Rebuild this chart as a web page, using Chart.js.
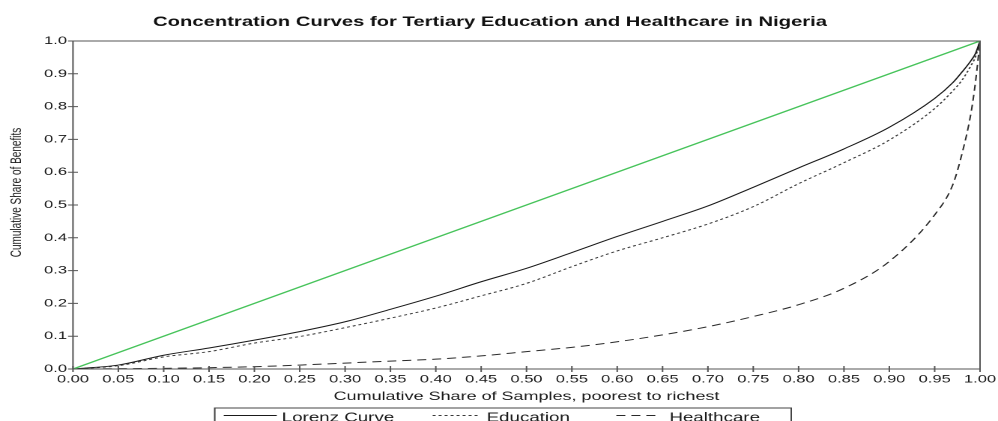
<!DOCTYPE html>
<html>
<head>
<meta charset="utf-8">
<script src="https://cdn.jsdelivr.net/npm/chart.js@4/dist/chart.umd.min.js"></script>
<style>
  html, body { margin: 0; padding: 0; background: #fff; overflow: hidden; }
  #wrap { width: 666px; height: 421px; transform: scaleX(1.4985); transform-origin: 0 0; }
</style>
</head>
<body>
<div id="wrap"><canvas id="c" width="666" height="421"></canvas></div>
<script>
// Cumulative share of the sample, ranked poorest to richest
const popShare = [0, 0.05, 0.10, 0.15, 0.20, 0.25, 0.30, 0.35, 0.40, 0.45, 0.50, 0.55, 0.60,
                  0.65, 0.70, 0.75, 0.80, 0.85, 0.90, 0.95, 0.97, 0.98, 0.99, 0.995, 1.00];
// Cumulative share of benefits
const lorenzCurve = [0, 0.012, 0.042, 0.064, 0.088, 0.114, 0.144, 0.182, 0.222, 0.266, 0.307, 0.355, 0.404,
                     0.450, 0.497, 0.554, 0.613, 0.671, 0.737, 0.825, 0.873, 0.905, 0.940, 0.962, 1.00];
const educationShare = [0, 0.010, 0.037, 0.053, 0.079, 0.099, 0.126, 0.155, 0.186, 0.223, 0.261, 0.312, 0.360,
                        0.400, 0.442, 0.495, 0.565, 0.629, 0.698, 0.794, 0.848, 0.880, 0.925, 0.952, 1.00];
const healthcareShare = [0, 0.001, 0.002, 0.004, 0.007, 0.012, 0.018, 0.024, 0.030, 0.040, 0.053, 0.066, 0.083,
                         0.104, 0.129, 0.160, 0.196, 0.246, 0.328, 0.470, 0.562, 0.655, 0.780, 0.875, 1.00];
// Line of equality
const equalityX = [0, 1];
const equalityY = [0, 1];

const xTickValues = [0, 0.05, 0.10, 0.15, 0.20, 0.25, 0.30, 0.35, 0.40, 0.45, 0.50,
                     0.55, 0.60, 0.65, 0.70, 0.75, 0.80, 0.85, 0.90, 0.95, 1.00];
const xTickLabels = ['0.00', '0.05', '0.10', '0.15', '0.20', '0.25', '0.30', '0.35', '0.40', '0.45', '0.50',
                     '0.55', '0.60', '0.65', '0.70', '0.75', '0.80', '0.85', '0.90', '0.95', '1.00'];
const yTickValues = [0, 0.1, 0.2, 0.3, 0.4, 0.5, 0.6, 0.7, 0.8, 0.9, 1.0];
const yTickLabels = ['0.0', '0.1', '0.2', '0.3', '0.4', '0.5', '0.6', '0.7', '0.8', '0.9', '1.0'];

const pairs = (xs, ys) => xs.map((v, i) => ({ x: v, y: ys[i] }));

Chart.defaults.font.family = "'Liberation Sans', Arial, sans-serif";
Chart.defaults.color = '#1a1a1a';

const INK = '#1a1a1a';
const AXIS = '#555';

// Box frame, crossing tick marks, rotated y title and the boxed legend
const framePlugin = {
  id: 'frame',
  afterDraw(chart) {
    const { ctx, chartArea: a, scales: { x, y } } = chart;
    ctx.save();
    ctx.strokeStyle = AXIS;
    ctx.lineWidth = 1;
    ctx.setLineDash([]);
    ctx.strokeRect(a.left, a.top, a.right - a.left, a.bottom - a.top);
    ctx.beginPath();
    yTickValues.forEach(v => {
      const py = y.getPixelForValue(v);
      ctx.moveTo(a.left - 3.3, py);
      ctx.lineTo(a.left + 3.3, py);
    });
    xTickValues.forEach(v => {
      const px = x.getPixelForValue(v);
      ctx.moveTo(px, a.bottom - 3);
      ctx.lineTo(px, a.bottom + 3);
    });
    ctx.stroke();

    // y-axis title
    ctx.save();
    ctx.translate(11.3, 192.5);
    ctx.rotate(-Math.PI / 2);
    ctx.fillStyle = INK;
    ctx.font = "10px 'Liberation Sans', Arial, sans-serif";
    ctx.textAlign = 'center';
    ctx.textBaseline = 'middle';
    ctx.fillText('Cumulative Share of Benefits', 0, 0);
    ctx.restore();

    // legend
    ctx.strokeStyle = '#444';
    ctx.strokeRect(143.3, 408, 384.7, 30);
    ctx.font = "12.5px 'Liberation Sans', Arial, sans-serif";
    ctx.fillStyle = INK;
    ctx.textBaseline = 'alphabetic';
    ctx.textAlign = 'left';
    const items = [
      { ds: 1, x0: 149.3, x1: 184.7, tx: 188.0 },
      { ds: 2, x0: 288.7, x1: 320.0, tx: 324.7 },
      { ds: 3, x0: 411.3, x1: 438.0, tx: 446.7 }
    ];
    items.forEach(it => {
      const d = chart.data.datasets[it.ds];
      ctx.strokeStyle = d.borderColor;
      ctx.lineWidth = 1;
      ctx.setLineDash(d.borderDash || []);
      ctx.beginPath();
      ctx.moveTo(it.x0, 415.5);
      ctx.lineTo(it.x1, 415.5);
      ctx.stroke();
      ctx.fillText(d.label, it.tx, 421.5);
    });
    ctx.restore();
  }
};

new Chart(document.getElementById('c'), {
  type: 'line',
  data: {
    datasets: [
      { label: 'Equality', data: pairs(equalityX, equalityY), borderColor: '#46c35a', borderWidth: 1.3 },
      { label: 'Lorenz Curve', data: pairs(popShare, lorenzCurve), borderColor: '#1a1a1a', borderWidth: 1 },
      { label: 'Education', data: pairs(popShare, educationShare), borderColor: '#3a3a3a', borderWidth: 1, borderDash: [2, 2] },
      { label: 'Healthcare', data: pairs(popShare, healthcareShare), borderColor: '#2a2a2a', borderWidth: 1, borderDash: [6, 4] }
    ]
  },
  options: {
    responsive: false,
    devicePixelRatio: 2,
    animation: false,
    elements: {
      point: { radius: 0, hoverRadius: 0 },
      line: { cubicInterpolationMode: 'monotone', fill: false }
    },
    layout: { padding: { left: 0, right: 12, top: 0, bottom: 0 } },
    plugins: {
      legend: { display: false },
      tooltip: { enabled: false },
      title: {
        display: true,
        text: 'Concentration Curves for Tertiary Education and Healthcare in Nigeria',
        color: '#111',
        font: { size: 13.5, weight: 'bold', lineHeight: 1.2 },
        padding: { top: 14, bottom: 10.8 }
      }
    },
    scales: {
      x: {
        type: 'linear', min: 0, max: 1,
        afterBuildTicks: s => { s.ticks = xTickValues.map(v => ({ value: v })); },
        afterFit: s => { s.height = 52; s.paddingLeft = 0; s.paddingRight = 0; },
        ticks: {
          callback: (v, i) => xTickLabels[i],
          font: { size: 11 }, color: INK, padding: 4,
          maxRotation: 0, autoSkip: false
        },
        grid: { display: false, drawTicks: false },
        border: { display: false },
        title: {
          display: true,
          text: 'Cumulative Share of Samples, poorest to richest',
          color: INK,
          font: { size: 12, lineHeight: 1.2 },
          padding: { top: 0, bottom: 17 }
        }
      },
      y: {
        type: 'linear', min: 0, max: 1,
        afterBuildTicks: s => { s.ticks = yTickValues.map(v => ({ value: v })); },
        afterFit: s => { s.width = 48.7; s.paddingTop = 0; s.paddingBottom = 0; },
        ticks: {
          callback: (v, i) => yTickLabels[i],
          font: { size: 11 }, color: INK, padding: 4
        },
        grid: { display: false, drawTicks: false },
        border: { display: false },
        title: { display: false }
      }
    }
  },
  plugins: [framePlugin]
});
</script>
</body>
</html>
